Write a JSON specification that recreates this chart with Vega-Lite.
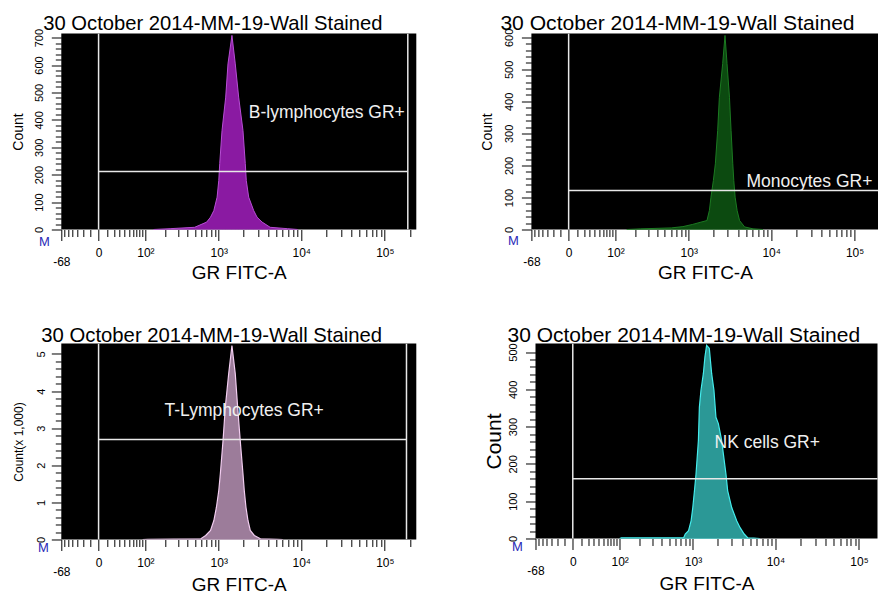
{
  "$schema": "https://vega.github.io/schema/vega-lite/v6.json",
  "background": "white",
  "padding": {"left": 10.3, "top": 12.5, "right": 0, "bottom": 0},
  "spacing": 42,
  "datasets": {
    "hist": [
      {"panel": "B", "gr": 134, "count": 0}, {"panel": "B", "gr": 234, "count": 3}, {"panel": "B", "gr": 496, "count": 8},
      {"panel": "B", "gr": 706, "count": 27}, {"panel": "B", "gr": 789, "count": 45}, {"panel": "B", "gr": 868, "count": 69},
      {"panel": "B", "gr": 953, "count": 118}, {"panel": "B", "gr": 1000, "count": 179}, {"panel": "B", "gr": 1028, "count": 241},
      {"panel": "B", "gr": 1097, "count": 361}, {"panel": "B", "gr": 1218, "count": 483}, {"panel": "B", "gr": 1299, "count": 604},
      {"panel": "B", "gr": 1453, "count": 708}, {"panel": "B", "gr": 1596, "count": 604}, {"panel": "B", "gr": 1755, "count": 483},
      {"panel": "B", "gr": 1982, "count": 361}, {"panel": "B", "gr": 2114, "count": 241}, {"panel": "B", "gr": 2174, "count": 179},
      {"panel": "B", "gr": 2325, "count": 118}, {"panel": "B", "gr": 2675, "count": 69}, {"panel": "B", "gr": 2936, "count": 45},
      {"panel": "B", "gr": 3381, "count": 27}, {"panel": "B", "gr": 4230, "count": 8}, {"panel": "B", "gr": 6823, "count": 3},
      {"panel": "B", "gr": 9060, "count": 0},
      {"panel": "Mono", "gr": 150, "count": 0}, {"panel": "Mono", "gr": 239, "count": 2}, {"panel": "Mono", "gr": 604, "count": 5},
      {"panel": "Mono", "gr": 847, "count": 9}, {"panel": "Mono", "gr": 1122, "count": 16}, {"panel": "Mono", "gr": 1417, "count": 23},
      {"panel": "Mono", "gr": 1678, "count": 28}, {"panel": "Mono", "gr": 1795, "count": 59}, {"panel": "Mono", "gr": 1878, "count": 101},
      {"panel": "Mono", "gr": 2008, "count": 153}, {"panel": "Mono", "gr": 2123, "count": 205}, {"panel": "Mono", "gr": 2265, "count": 309},
      {"panel": "Mono", "gr": 2376, "count": 413}, {"panel": "Mono", "gr": 2606, "count": 518}, {"panel": "Mono", "gr": 2782, "count": 606},
      {"panel": "Mono", "gr": 2943, "count": 518}, {"panel": "Mono", "gr": 3150, "count": 413}, {"panel": "Mono", "gr": 3294, "count": 309},
      {"panel": "Mono", "gr": 3455, "count": 205}, {"panel": "Mono", "gr": 3553, "count": 153}, {"panel": "Mono", "gr": 3686, "count": 101},
      {"panel": "Mono", "gr": 3899, "count": 59}, {"panel": "Mono", "gr": 4172, "count": 28}, {"panel": "Mono", "gr": 4799, "count": 8},
      {"panel": "Mono", "gr": 6064, "count": 2}, {"panel": "Mono", "gr": 8000, "count": 0},
      {"panel": "T", "gr": 90, "count": 0}, {"panel": "T", "gr": 109, "count": 5}, {"panel": "T", "gr": 596, "count": 20},
      {"panel": "T", "gr": 686, "count": 108}, {"panel": "T", "gr": 789, "count": 243}, {"panel": "T", "gr": 869, "count": 512},
      {"panel": "T", "gr": 935, "count": 870}, {"panel": "T", "gr": 1000, "count": 1321}, {"panel": "T", "gr": 1046, "count": 1771},
      {"panel": "T", "gr": 1129, "count": 2668}, {"panel": "T", "gr": 1204, "count": 3566}, {"panel": "T", "gr": 1325, "count": 4466},
      {"panel": "T", "gr": 1453, "count": 5229}, {"panel": "T", "gr": 1596, "count": 4466}, {"panel": "T", "gr": 1707, "count": 3566},
      {"panel": "T", "gr": 1835, "count": 2668}, {"panel": "T", "gr": 1982, "count": 1771}, {"panel": "T", "gr": 2055, "count": 1321},
      {"panel": "T", "gr": 2155, "count": 870}, {"panel": "T", "gr": 2279, "count": 512}, {"panel": "T", "gr": 2432, "count": 243},
      {"panel": "T", "gr": 2722, "count": 108}, {"panel": "T", "gr": 3222, "count": 20}, {"panel": "T", "gr": 5155, "count": 5},
      {"panel": "T", "gr": 6000, "count": 0},
      {"panel": "NK", "gr": 100, "count": 0}, {"panel": "NK", "gr": 107, "count": 2}, {"panel": "NK", "gr": 766, "count": 2},
      {"panel": "NK", "gr": 801, "count": 12}, {"panel": "NK", "gr": 881, "count": 21}, {"panel": "NK", "gr": 949, "count": 48},
      {"panel": "NK", "gr": 995, "count": 83}, {"panel": "NK", "gr": 1043, "count": 128}, {"panel": "NK", "gr": 1091, "count": 173},
      {"panel": "NK", "gr": 1167, "count": 263}, {"panel": "NK", "gr": 1200, "count": 352}, {"panel": "NK", "gr": 1255, "count": 397},
      {"panel": "NK", "gr": 1343, "count": 442}, {"panel": "NK", "gr": 1405, "count": 487}, {"panel": "NK", "gr": 1473, "count": 518},
      {"panel": "NK", "gr": 1589, "count": 510}, {"panel": "NK", "gr": 1698, "count": 442}, {"panel": "NK", "gr": 1812, "count": 397},
      {"panel": "NK", "gr": 1916, "count": 325}, {"panel": "NK", "gr": 2049, "count": 308}, {"panel": "NK", "gr": 2248, "count": 263},
      {"panel": "NK", "gr": 2357, "count": 227}, {"panel": "NK", "gr": 2535, "count": 173}, {"panel": "NK", "gr": 2660, "count": 128},
      {"panel": "NK", "gr": 2977, "count": 83}, {"panel": "NK", "gr": 3428, "count": 47}, {"panel": "NK", "gr": 3760, "count": 29},
      {"panel": "NK", "gr": 4209, "count": 12}, {"panel": "NK", "gr": 4630, "count": 2}, {"panel": "NK", "gr": 5483, "count": 1},
      {"panel": "NK", "gr": 6500, "count": 0}
    ],
    "gates": [
      {"panel": "B", "lo": 0, "hi": 188400, "level": 212, "name": "B-lymphocytes GR+"},
      {"panel": "Mono", "lo": 0, "hi": 250000, "level": 122, "name": "Monocytes GR+"},
      {"panel": "T", "lo": 0, "hi": 181700, "level": 2695, "name": "T-Lymphocytes GR+"},
      {"panel": "NK", "lo": 0, "hi": 250000, "level": 160, "name": "NK cells GR+"}
    ]
  },
  "config": {
    "font": "Liberation Sans",
    "view": {"fill": "#000000", "stroke": null},
    "axis": {
      "domain": false, "grid": false, "tickColor": "#000000", "tickWidth": 1, "tickCount": 1000,
      "labelColor": "#000000", "titleColor": "#000000", "titleFontWeight": "normal",
      "labelOverlap": false, "labelFlush": false, "labelFont": "Liberation Sans", "titleFont": "Liberation Sans"
    },
    "title": {"font": "Liberation Sans", "fontWeight": "normal", "color": "#000000", "anchor": "start", "frame": "group", "baseline": "alphabetic"}
  },
  "vconcat": [
    {
      "spacing": 63.1,
      "hconcat": [
        {
          "width": 355, "height": 196,
          "title": {"text": "30 October 2014-MM-19-Wall Stained", "fontSize": 20.2, "dx": -18, "offset": -5.5},
          "layer": [
            {
              "data": {"name": "hist"}, "transform": [{"filter": "datum.panel == 'B'"}],
              "mark": {"type": "area", "interpolate": "linear", "fill": "#8a1aa2", "stroke": "#b84ed6", "strokeWidth": 1, "clip": true},
              "encoding": {
                "x": {"field": "gr", "type": "quantitative",
                  "scale": {"type": "symlog", "constant": 38, "domain": [-68, 238000], "nice": false, "zero": false},
                  "axis": {
                    "values": [-68,-60,-50,-40,-30,-20,-10,0,10,20,30,40,50,60,70,80,90,100,200,300,400,500,600,700,800,900,1000,2000,3000,4000,5000,6000,7000,8000,9000,10000,20000,30000,40000,50000,60000,70000,80000,90000,100000,200000],
                    "tickCount": 1000,
                    "labelExpr": "datum.value == -68 ? '-68' : datum.value == 0 ? '0' : datum.value == 100 ? '10²' : datum.value == 1000 ? '10³' : datum.value == 10000 ? '10⁴' : datum.value == 100000 ? '10⁵' : ''",
                    "tickSize": {"condition": {"test": "datum.value == -68 || datum.value == 0 || datum.value == 100 || datum.value == 1000 || datum.value == 10000 || datum.value == 100000", "value": 11}, "value": 7},
                    "labelPadding": {"condition": {"test": "datum.value == -68", "value": 16}, "value": 7},
                    "labelFontSize": 12, "labelAngle": 0, "labelAlign": "center", "labelBaseline": "top",
                    "title": "GR FITC-A", "titleFontSize": 19, "titlePadding": -4
                  }},
                "y": {"field": "count", "type": "quantitative",
                  "scale": {"domain": [0, 715], "nice": false, "zero": true},
                  "axis": {
                    "values": [0,20,40,60,80,100,120,140,160,180,200,220,240,260,280,300,320,340,360,380,400,420,440,460,480,500,520,540,560,580,600,620,640,660,680,700],
                    "tickCount": 1000,
                    "labelExpr": "datum.value % 100 == 0 ? format(datum.value, 'd') : ''",
                    "tickSize": {"condition": {"test": "datum.value % 100 == 0", "value": 10}, "value": 6},
                    "labelPadding": 9, "labelFontSize": 11, "labelAngle": 270, "labelAlign": "center", "labelBaseline": "alphabetic",
                    "title": "Count", "titleFontSize": 14, "titlePadding": 8
                  }}
              }
            },
            {
              "data": {"name": "gates"}, "transform": [{"filter": "datum.panel == 'B'"}],
              "mark": {"type": "rule", "color": "#e8e8e8", "strokeWidth": 1.5, "clip": true},
              "encoding": {"x": {"field": "lo", "type": "quantitative"}}
            },
            {
              "data": {"name": "gates"}, "transform": [{"filter": "datum.panel == 'B'"}],
              "mark": {"type": "rule", "color": "#e8e8e8", "strokeWidth": 1.5, "clip": true},
              "encoding": {"x": {"field": "hi", "type": "quantitative"}}
            },
            {
              "data": {"name": "gates"}, "transform": [{"filter": "datum.panel == 'B'"}],
              "mark": {"type": "rule", "color": "#e8e8e8", "strokeWidth": 1.5, "clip": true},
              "encoding": {
                "x": {"field": "lo", "type": "quantitative"},
                "x2": {"field": "hi"},
                "y": {"field": "level", "type": "quantitative"}
              }
            },
            {
              "data": {"name": "gates"}, "transform": [{"filter": "datum.panel == 'B'"}],
              "mark": {"type": "text", "color": "#f0f0f0", "fontSize": 17.5, "align": "right", "baseline": "middle"},
              "encoding": {
                "x": {"datum": 173400, "type": "quantitative"},
                "y": {"datum": 424, "type": "quantitative"},
                "text": {"field": "name"}
              }
            },
            {
              "data": {"values": [{"t": "M"}]},
              "mark": {"type": "text", "color": "#2a2ab8", "fontSize": 13, "align": "center", "baseline": "middle", "dx": -17, "dy": 12},
              "encoding": {
                "x": {"datum": -68, "type": "quantitative"},
                "y": {"datum": 0, "type": "quantitative"},
                "text": {"field": "t"}
              }
            }
          ]
        },
        {
          "width": 347, "height": 196,
          "title": {"text": "30 October 2014-MM-19-Wall Stained", "fontSize": 21.1, "dx": -31, "offset": -5.5},
          "layer": [
            {
              "data": {"name": "hist"}, "transform": [{"filter": "datum.panel == 'Mono'"}],
              "mark": {"type": "area", "interpolate": "linear", "fill": "#0c4a10", "stroke": "#1c7a22", "strokeWidth": 1, "clip": true},
              "encoding": {
                "x": {"field": "gr", "type": "quantitative",
                  "scale": {"type": "symlog", "constant": 38, "domain": [-68, 192700], "nice": false, "zero": false},
                  "axis": {
                    "values": [-68,-60,-50,-40,-30,-20,-10,0,10,20,30,40,50,60,70,80,90,100,200,300,400,500,600,700,800,900,1000,2000,3000,4000,5000,6000,7000,8000,9000,10000,20000,30000,40000,50000,60000,70000,80000,90000,100000],
                    "tickCount": 1000,
                    "labelExpr": "datum.value == -68 ? '-68' : datum.value == 0 ? '0' : datum.value == 100 ? '10²' : datum.value == 1000 ? '10³' : datum.value == 10000 ? '10⁴' : datum.value == 100000 ? '10⁵' : ''",
                    "tickSize": {"condition": {"test": "datum.value == -68 || datum.value == 0 || datum.value == 100 || datum.value == 1000 || datum.value == 10000 || datum.value == 100000", "value": 11}, "value": 7},
                    "labelPadding": {"condition": {"test": "datum.value == -68", "value": 16}, "value": 7},
                    "labelFontSize": 12, "labelAngle": 0, "labelAlign": "center", "labelBaseline": "top",
                    "title": "GR FITC-A", "titleFontSize": 19, "titlePadding": -4
                  }},
                "y": {"field": "count", "type": "quantitative",
                  "scale": {"domain": [0, 612], "nice": false, "zero": true},
                  "axis": {
                    "values": [0,20,40,60,80,100,120,140,160,180,200,220,240,260,280,300,320,340,360,380,400,420,440,460,480,500,520,540,560,580,600],
                    "tickCount": 1000,
                    "labelExpr": "datum.value % 100 == 0 ? format(datum.value, 'd') : ''",
                    "tickSize": {"condition": {"test": "datum.value % 100 == 0", "value": 10}, "value": 6},
                    "labelPadding": 9, "labelFontSize": 11, "labelAngle": 270, "labelAlign": "center", "labelBaseline": "alphabetic",
                    "title": "Count", "titleFontSize": 14, "titlePadding": 9.3
                  }}
              }
            },
            {
              "data": {"name": "gates"}, "transform": [{"filter": "datum.panel == 'Mono'"}],
              "mark": {"type": "rule", "color": "#e8e8e8", "strokeWidth": 1.5, "clip": true},
              "encoding": {"x": {"field": "lo", "type": "quantitative"}}
            },
            {
              "data": {"name": "gates"}, "transform": [{"filter": "datum.panel == 'Mono'"}],
              "mark": {"type": "rule", "color": "#e8e8e8", "strokeWidth": 1.5, "clip": true},
              "encoding": {
                "x": {"field": "lo", "type": "quantitative"},
                "x2": {"field": "hi"},
                "y": {"field": "level", "type": "quantitative"}
              }
            },
            {
              "data": {"name": "gates"}, "transform": [{"filter": "datum.panel == 'Mono'"}],
              "mark": {"type": "text", "color": "#f0f0f0", "fontSize": 17.5, "align": "right", "baseline": "middle"},
              "encoding": {
                "x": {"datum": 163300, "type": "quantitative"},
                "y": {"datum": 148, "type": "quantitative"},
                "text": {"field": "name"}
              }
            },
            {
              "data": {"values": [{"t": "M"}]},
              "mark": {"type": "text", "color": "#2a2ab8", "fontSize": 13, "align": "center", "baseline": "middle", "dx": -18, "dy": 11},
              "encoding": {
                "x": {"datum": -68, "type": "quantitative"},
                "y": {"datum": 0, "type": "quantitative"},
                "text": {"field": "t"}
              }
            }
          ]
        }
      ]
    },
    {
      "spacing": 67.2,
      "hconcat": [
        {
          "width": 355, "height": 196,
          "title": {"text": "30 October 2014-MM-19-Wall Stained", "fontSize": 20.3, "dx": -20, "offset": -3},
          "layer": [
            {
              "data": {"name": "hist"}, "transform": [{"filter": "datum.panel == 'T'"}],
              "mark": {"type": "area", "interpolate": "linear", "fill": "#9c7c9a", "stroke": "#f2cdf0", "strokeWidth": 1.2, "clip": true},
              "encoding": {
                "x": {"field": "gr", "type": "quantitative",
                  "scale": {"type": "symlog", "constant": 38, "domain": [-68, 238000], "nice": false, "zero": false},
                  "axis": {
                    "values": [-68,-60,-50,-40,-30,-20,-10,0,10,20,30,40,50,60,70,80,90,100,200,300,400,500,600,700,800,900,1000,2000,3000,4000,5000,6000,7000,8000,9000,10000,20000,30000,40000,50000,60000,70000,80000,90000,100000,200000],
                    "tickCount": 1000,
                    "labelExpr": "datum.value == -68 ? '-68' : datum.value == 0 ? '0' : datum.value == 100 ? '10²' : datum.value == 1000 ? '10³' : datum.value == 10000 ? '10⁴' : datum.value == 100000 ? '10⁵' : ''",
                    "tickSize": {"condition": {"test": "datum.value == -68 || datum.value == 0 || datum.value == 100 || datum.value == 1000 || datum.value == 10000 || datum.value == 100000", "value": 11}, "value": 7},
                    "labelPadding": {"condition": {"test": "datum.value == -68", "value": 16}, "value": 7},
                    "labelFontSize": 12, "labelAngle": 0, "labelAlign": "center", "labelBaseline": "top",
                    "title": "GR FITC-A", "titleFontSize": 19, "titlePadding": -2
                  }},
                "y": {"field": "count", "type": "quantitative",
                  "scale": {"domain": [0, 5283], "nice": false, "zero": true},
                  "axis": {
                    "values": [0,200,400,600,800,1000,1200,1400,1600,1800,2000,2200,2400,2600,2800,3000,3200,3400,3600,3800,4000,4200,4400,4600,4800,5000],
                    "tickCount": 1000,
                    "labelExpr": "datum.value % 1000 == 0 ? format(datum.value / 1000, 'd') : ''",
                    "tickSize": {"condition": {"test": "datum.value % 1000 == 0", "value": 10}, "value": 6},
                    "labelPadding": 7, "labelFontSize": 11, "labelAngle": 270, "labelAlign": "center", "labelBaseline": "alphabetic",
                    "title": "Count(x 1,000)", "titleFontSize": 12, "titlePadding": 9.3
                  }}
              }
            },
            {
              "data": {"name": "gates"}, "transform": [{"filter": "datum.panel == 'T'"}],
              "mark": {"type": "rule", "color": "#e8e8e8", "strokeWidth": 1.5, "clip": true},
              "encoding": {"x": {"field": "lo", "type": "quantitative"}}
            },
            {
              "data": {"name": "gates"}, "transform": [{"filter": "datum.panel == 'T'"}],
              "mark": {"type": "rule", "color": "#e8e8e8", "strokeWidth": 1.5, "clip": true},
              "encoding": {"x": {"field": "hi", "type": "quantitative"}}
            },
            {
              "data": {"name": "gates"}, "transform": [{"filter": "datum.panel == 'T'"}],
              "mark": {"type": "rule", "color": "#e8e8e8", "strokeWidth": 1.5, "clip": true},
              "encoding": {
                "x": {"field": "lo", "type": "quantitative"},
                "x2": {"field": "hi"},
                "y": {"field": "level", "type": "quantitative"}
              }
            },
            {
              "data": {"name": "gates"}, "transform": [{"filter": "datum.panel == 'T'"}],
              "mark": {"type": "text", "color": "#f0f0f0", "fontSize": 17.5, "align": "center", "baseline": "middle"},
              "encoding": {
                "x": {"datum": 2050, "type": "quantitative"},
                "y": {"datum": 3477, "type": "quantitative"},
                "text": {"field": "name"}
              }
            },
            {
              "data": {"values": [{"t": "M"}]},
              "mark": {"type": "text", "color": "#2a2ab8", "fontSize": 13, "align": "center", "baseline": "middle", "dx": -18, "dy": 9},
              "encoding": {
                "x": {"datum": -68, "type": "quantitative"},
                "y": {"datum": 0, "type": "quantitative"},
                "text": {"field": "t"}
              }
            }
          ]
        },
        {
          "width": 342, "height": 195,
          "title": {"text": "30 October 2014-MM-19-Wall Stained", "fontSize": 21, "dx": -28, "offset": -3},
          "layer": [
            {
              "data": {"name": "hist"}, "transform": [{"filter": "datum.panel == 'NK'"}],
              "mark": {"type": "area", "interpolate": "linear", "fill": "#2b9896", "stroke": "#44ecec", "strokeWidth": 1.2, "clip": true},
              "encoding": {
                "x": {"field": "gr", "type": "quantitative",
                  "scale": {"type": "symlog", "constant": 38, "domain": [-68, 166500], "nice": false, "zero": false},
                  "axis": {
                    "values": [-68,-60,-50,-40,-30,-20,-10,0,10,20,30,40,50,60,70,80,90,100,200,300,400,500,600,700,800,900,1000,2000,3000,4000,5000,6000,7000,8000,9000,10000,20000,30000,40000,50000,60000,70000,80000,90000,100000],
                    "tickCount": 1000,
                    "labelExpr": "datum.value == -68 ? '-68' : datum.value == 0 ? '0' : datum.value == 100 ? '10²' : datum.value == 1000 ? '10³' : datum.value == 10000 ? '10⁴' : datum.value == 100000 ? '10⁵' : ''",
                    "tickSize": {"condition": {"test": "datum.value == -68 || datum.value == 0 || datum.value == 100 || datum.value == 1000 || datum.value == 10000 || datum.value == 100000", "value": 11}, "value": 7},
                    "labelPadding": {"condition": {"test": "datum.value == -68", "value": 16}, "value": 7},
                    "labelFontSize": 12, "labelAngle": 0, "labelAlign": "center", "labelBaseline": "top",
                    "title": "GR FITC-A", "titleFontSize": 19, "titlePadding": -2
                  }},
                "y": {"field": "count", "type": "quantitative",
                  "scale": {"domain": [0, 523], "nice": false, "zero": true},
                  "axis": {
                    "values": [0,20,40,60,80,100,120,140,160,180,200,220,240,260,280,300,320,340,360,380,400,420,440,460,480,500],
                    "tickCount": 1000,
                    "labelExpr": "datum.value % 100 == 0 ? format(datum.value, 'd') : ''",
                    "tickSize": {"condition": {"test": "datum.value % 100 == 0", "value": 10}, "value": 6},
                    "labelPadding": 9, "labelFontSize": 11, "labelAngle": 270, "labelAlign": "center", "labelBaseline": "alphabetic",
                    "title": "Count", "titleFontSize": 21, "titlePadding": 2.8
                  }}
              }
            },
            {
              "data": {"name": "gates"}, "transform": [{"filter": "datum.panel == 'NK'"}],
              "mark": {"type": "rule", "color": "#e8e8e8", "strokeWidth": 1.5, "clip": true},
              "encoding": {"x": {"field": "lo", "type": "quantitative"}}
            },
            {
              "data": {"name": "gates"}, "transform": [{"filter": "datum.panel == 'NK'"}],
              "mark": {"type": "rule", "color": "#e8e8e8", "strokeWidth": 1.5, "clip": true},
              "encoding": {
                "x": {"field": "lo", "type": "quantitative"},
                "x2": {"field": "hi"},
                "y": {"field": "level", "type": "quantitative"}
              }
            },
            {
              "data": {"name": "gates"}, "transform": [{"filter": "datum.panel == 'NK'"}],
              "mark": {"type": "text", "color": "#f0f0f0", "fontSize": 17.5, "align": "left", "baseline": "middle"},
              "encoding": {
                "x": {"datum": 1840, "type": "quantitative"},
                "y": {"datum": 255, "type": "quantitative"},
                "text": {"field": "name"}
              }
            },
            {
              "data": {"values": [{"t": "M"}]},
              "mark": {"type": "text", "color": "#2a2ab8", "fontSize": 13, "align": "center", "baseline": "middle", "dx": -18, "dy": 9},
              "encoding": {
                "x": {"datum": -68, "type": "quantitative"},
                "y": {"datum": 0, "type": "quantitative"},
                "text": {"field": "t"}
              }
            }
          ]
        }
      ]
    }
  ]
}
